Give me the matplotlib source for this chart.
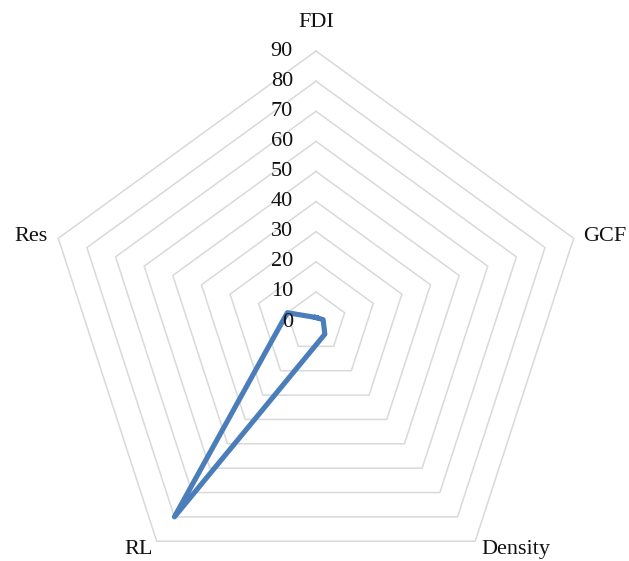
import numpy as np
import matplotlib
matplotlib.use("Agg")
import matplotlib.pyplot as plt

# categories clockwise from the top
CATEGORIES = ["FDI", "GCF", "Density", "RL", "Res"]
VALUES = [1.5, 2.5, 5, 80, 10]
RING_LEVELS = [10, 20, 30, 40, 50, 60, 70, 80, 90]
TICK_LABELS = ["0", "10", "20", "30", "40", "50", "60", "70", "80", "90"]

GRID_COLOR = "#D9D9D9"
LINE_COLOR = "#4A7DBA"
FONT = ["Liberation Serif", "DejaVu Serif"]

fig = plt.figure(figsize=(6.29, 5.61), dpi=100)
ax = fig.add_axes([0.0715, -0.057, 0.8617, 0.966], projection="polar")
ax.set_theta_zero_location("N")
ax.set_theta_direction(-1)
ax.set_rlim(0, 90)
ax.grid(False)
ax.spines["polar"].set_visible(False)
ax.set_xticks([])
ax.set_yticks([])
ax.patch.set_visible(False)

n = len(CATEGORIES)
theta = np.linspace(0, 2 * np.pi, n, endpoint=False)
theta_closed = np.append(theta, theta[0])

# pentagon rings
for level in RING_LEVELS:
    ax.plot(theta_closed, [level] * (n + 1), color=GRID_COLOR, lw=1.1,
            clip_on=False, zorder=1)

# data series
vals = np.append(VALUES, VALUES[0])
ax.plot(theta_closed, vals, color=LINE_COLOR, lw=3.7,
        solid_joinstyle="round", clip_on=False, zorder=3)

# value labels along the top axis
for i, lab in enumerate(TICK_LABELS):
    ax.annotate(lab, xy=(0, i * 10), xytext=(-23, 0),
                textcoords="offset pixels", ha="right", va="center",
                fontsize=16, family=FONT, color="#111111", zorder=4)

# category labels
offsets = [(0, 29, "center", "center"),
           (9, 2, "left", "center"),
           (6, -8, "left", "center"),
           (-4, -8, "right", "center"),
           (-11, 2, "right", "center")]
for t, lab, (dx, dy, ha, va) in zip(theta, CATEGORIES, offsets):
    ax.annotate(lab, xy=(t, 90), xytext=(dx, dy), textcoords="offset pixels",
                ha=ha, va=va, fontsize=16, family=FONT, color="#111111",
                annotation_clip=False)

fig.savefig("out.png", dpi=100)
